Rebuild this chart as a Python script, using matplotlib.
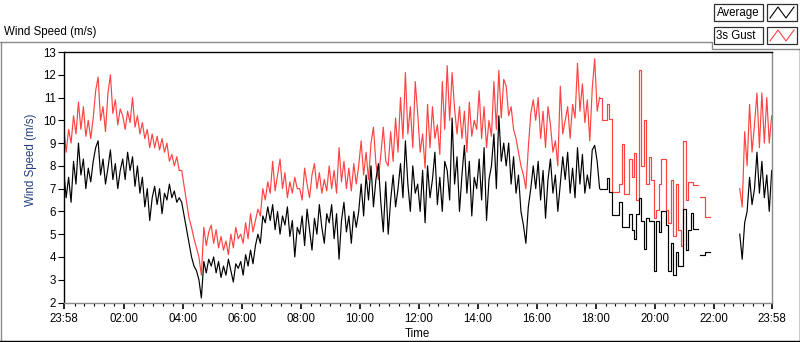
import numpy as np
import matplotlib
matplotlib.use('Agg')
import matplotlib.pyplot as plt
from matplotlib.patches import Rectangle
from matplotlib.lines import Line2D

nan = np.nan

# minutes after 23:58 (previous day), 5-minute samples
minutes = np.arange(0, 1441, 5)

average_speed = [
    7.8, 6.6, 7.5, 6.4, 8.2, 7.2, 9.0, 7.6, 8.3, 7.0, 7.9, 7.3,
    8.2, 8.8, 9.1, 7.6, 8.3, 7.2, 7.9, 8.7, 7.4, 8.1, 7.0, 7.8,
    8.3, 7.4, 8.6, 7.8, 8.4, 7.1, 8.0, 6.8, 7.5, 6.2, 7.0, 5.6,
    6.6, 7.1, 6.3, 7.0, 5.9, 6.8, 6.5, 7.2, 6.6, 6.9, 6.4, 6.6,
    6.4, 5.8, 5.2, 4.6, 4.0, 3.6, 3.4, 3.0, 2.2, 3.8, 3.3, 3.9,
    3.6, 4.0, 3.3, 3.8, 3.1, 3.6, 3.2, 3.9, 3.4, 2.9, 3.7, 3.5,
    3.8, 3.2, 4.1, 3.6, 4.3, 3.7, 4.5, 5.0, 4.6, 5.8, 5.5, 6.2,
    5.6, 6.3, 5.2, 6.0, 5.0, 5.8, 5.4, 6.2, 4.9, 5.6, 4.0, 5.3,
    5.0, 5.8, 4.5, 6.1, 5.2, 4.3, 5.7, 5.0, 6.3, 5.3, 4.6, 5.9,
    5.5, 6.3, 4.8, 5.9, 3.9, 5.6, 6.4, 5.1, 5.8, 4.6, 6.0, 5.3,
    6.0, 7.2, 5.8, 7.6, 6.5, 8.0, 6.2, 7.4, 8.1, 6.4, 5.1, 7.3,
    5.0, 6.5, 7.6, 6.2, 7.0, 8.1, 6.6, 9.1, 7.2, 6.0, 8.0, 6.8,
    7.2, 6.0, 7.8, 5.5, 8.0, 6.6, 7.4, 8.6, 6.3, 7.5, 6.0, 8.2,
    7.8, 6.5, 10.1, 7.2, 8.4, 6.0, 7.6, 8.9, 6.8, 8.2, 5.8, 7.5,
    7.0, 8.3, 6.5, 8.8, 5.6, 7.4, 8.0, 9.4, 7.0, 10.2, 8.2, 9.0,
    8.0, 9.0, 7.2, 8.4, 6.8, 7.6, 6.0, 5.4, 4.6, 6.2, 7.0, 8.0,
    7.0, 8.2, 6.5, 7.8, 5.7, 7.4, 8.3, 6.8, 7.6, 6.0, 7.2, 8.4,
    7.4, 8.6, 6.8, 7.9, 6.6, 8.8, 7.2, 8.5, 6.8, 7.6, 7.0, 8.7,
    8.9, 8.2, 7.0, 7.0, 7.0, 7.45, 6.85, 5.85, 5.85, 5.85, 6.4, 5.3,
    5.3, 5.3, 5.9, 5.2, 4.8, 5.9, 6.6, 5.6, 4.35, 5.7, 5.6, 5.6,
    3.4, 5.6, 5.1, 6.0, 6.0, 5.4, 3.4, 4.6, 3.2, 4.2, 3.6, 3.6,
    6.1, 4.3, 5.2, 5.95, 5.24, 5.24, nan, 4.1, 4.1, 4.2, 4.2, nan,
    nan, nan, nan, nan, nan, nan, nan, nan, nan, nan, nan, 5.0,
    3.9, 5.5, 6.0, 7.5, 6.3, 7.0, 8.6, 6.8, 8.2, 6.6, 7.6, 6.0,
    7.8,
]

gust_speed = [
    9.7, 8.6, 9.6, 9.0, 10.2, 9.4, 10.8, 9.6, 10.6, 9.3, 10.0, 9.2,
    10.1, 11.3, 11.9, 10.0, 10.6, 9.5, 11.2, 12.0, 10.3, 10.9, 9.8, 10.5,
    10.2, 9.6, 10.4, 9.9, 11.0, 9.7, 10.2, 9.4, 9.9, 9.2, 9.6, 8.8,
    9.4, 8.8, 9.3, 8.7, 9.2, 8.6, 9.0, 8.2, 8.5, 8.0, 8.4, 7.8,
    7.8, 7.1, 6.4, 5.7, 5.3, 4.8, 4.4, 4.0, 3.2, 5.3, 4.5, 5.1,
    5.4, 4.6, 5.2, 4.4, 4.9, 4.3, 4.7, 4.1, 5.0, 4.4, 5.3, 4.8,
    5.0, 4.6, 5.5, 4.8, 5.9, 5.1, 5.6, 6.1, 5.8, 7.0, 6.5, 7.3,
    6.8, 8.2, 6.9, 7.6, 8.3, 7.0, 7.7, 6.6, 7.3, 6.8, 7.5, 7.0,
    7.0, 6.5, 7.9, 7.2, 6.6, 7.6, 8.1, 7.0, 7.7, 6.8, 7.4, 6.9,
    8.0, 7.0, 7.8, 6.8, 8.8, 7.3, 8.2, 7.0, 7.9, 6.9, 8.1, 7.2,
    8.0, 9.1, 7.6, 8.6, 7.4, 9.0, 9.7, 8.1, 7.4, 8.5, 9.7, 8.2,
    8.0, 9.5, 8.2, 10.1, 8.6, 11.0, 9.2, 12.1, 9.4, 10.6, 8.8, 11.7,
    10.3, 8.6, 9.4, 7.9, 10.7, 8.8, 10.6, 9.2, 9.8, 8.5, 11.7, 9.6,
    12.4, 10.0, 12.1, 10.5, 9.4, 10.6, 9.2, 10.4, 8.6, 10.8, 9.3, 10.0,
    9.6, 11.3, 9.2, 10.6, 8.8, 10.0, 9.3, 11.7, 9.6, 12.2, 10.1, 11.8,
    11.5, 10.2, 10.6, 9.6, 9.2, 8.6, 8.0, 7.6, 7.0, 8.8, 10.3, 10.9,
    10.0, 11.0, 9.2, 10.4, 8.8, 10.6, 9.8, 8.6, 9.1, 8.0, 11.5, 9.4,
    10.0, 10.6, 9.2, 10.7, 10.1, 12.5, 10.4, 11.6, 9.9, 10.9, 9.1, 11.4,
    12.7, 10.4, 11.0, 10.0, 10.0, 10.7, 10.05, 6.85, 6.85, 6.85, 7.2, 8.95,
    6.78, 6.78, 8.3, 7.5, 8.55, 6.5, 12.2, 8.0, 10.0, 7.2, 8.4, 7.4,
    5.7, 6.05, 7.2, 8.3, 8.3, 6.05, 5.5, 7.4, 4.9, 7.2, 5.2, 4.5,
    9.1, 6.5, 7.3, 7.3, 7.14, 7.14, nan, 6.65, 6.65, 5.75, 5.75, nan,
    nan, nan, nan, nan, nan, nan, nan, nan, nan, nan, nan, 7.0,
    6.2, 9.5, 8.0, 10.7, 8.6, 9.8, 11.2, 8.8, 11.2, 9.0, 11.0, 9.0,
    10.2,
]

major_ticks = [0, 122, 242, 362, 482, 602, 722, 842, 962, 1082, 1202, 1322, 1440]
major_labels = ['23:58', '02:00', '04:00', '06:00', '08:00', '10:00', '12:00',
                '14:00', '16:00', '18:00', '20:00', '22:00', '23:58']
y_ticks = list(range(2, 14))
legend_names = ['Average', '3s Gust']
series_colors = ['#000000', '#ff4242']

plt.rcParams['font.family'] = ['Liberation Sans', 'DejaVu Sans']

W, H = 800, 342
fig = plt.figure(figsize=(W / 100, H / 100), dpi=100)
fig.patch.set_facecolor('white')


def fx(x):
    return x / W


def fy(y):
    return 1 - y / H


ax = fig.add_axes([fx(63.7), fy(302.5), (771.7 - 63.7) / W, (302.5 - 52) / H])

# dense logging parts drawn as jagged lines, sparse held values as steps
dense_a = slice(0, 219)
sparse = slice(218, 264)
dense_b = slice(275, 289)
avg = np.array(average_speed, dtype=float)
gst = np.array(gust_speed, dtype=float)
for series, col in [(gst, series_colors[1]), (avg, series_colors[0])]:
    ax.plot(minutes[dense_a], series[dense_a], color=col, lw=0.85)
    ax.plot(minutes[sparse], series[sparse], drawstyle='steps-post', color=col, lw=0.85)
    ax.plot(minutes[dense_b], series[dense_b], color=col, lw=0.85)

ax.set_xlim(0, 1440)
ax.set_ylim(2, 13)

ax.set_xticks(major_ticks)
ax.set_xticklabels(major_labels)
minor = [t for t in range(22, 1440, 20) if t not in major_ticks]
ax.set_xticks(minor, minor=True)
ax.set_yticks(y_ticks)
ax.tick_params(axis='x', which='major', length=4.5, width=1.2, pad=3, labelsize=8.3, color='black')
ax.tick_params(axis='x', which='minor', length=2.5, width=0.8, color='black')
ax.tick_params(axis='y', which='major', length=4.0, width=0.8, pad=1.5, labelsize=8.3, color='black')

for side in ['top', 'left']:
    ax.spines[side].set_color('black')
    ax.spines[side].set_linewidth(1.0)
for side in ['bottom', 'right']:
    ax.spines[side].set_color('#8a8a8a')
    ax.spines[side].set_linewidth(1.0)

# axis labels
fig.text(fx(31), fy(160), 'Wind Speed (m/s)', rotation=90, ha='center', va='center',
         fontsize=8.3, color='#23407a')
fig.text(fx(417), fy(334), 'Time', ha='center', va='center', fontsize=8.3, color='black')
fig.text(fx(4), fy(32), 'Wind Speed (m/s)', ha='left', va='center', fontsize=8.3, color='black')


def fline(xs, ys, color, lw=1.0):
    fig.add_artist(Line2D([fx(x) for x in xs], [fy(y) for y in ys],
                          transform=fig.transFigure, color=color, lw=lw))


# outer panel border
fline([0.5, 0.5], [42, 341], '#8a8a8a')
fline([0, 712, 712, 800], [42, 42, 48.5, 48.5], '#8a8a8a')
fline([0, 800], [341, 341], 'black')
fline([799.5, 799.5], [48.5, 341], 'black')

# legend
rows = [(4, 21), (27, 44)]
for (y0, y1), name, col in zip(rows, legend_names, series_colors):
    fig.add_artist(Rectangle((fx(714), fy(y1)), 49 / W, (y1 - y0) / H,
                             transform=fig.transFigure, fill=False,
                             edgecolor='#303030', lw=0.9))
    fig.text(fx(716.5), fy((y0 + y1) / 2 + 0.5), name, ha='left', va='center',
             fontsize=8.3, color='black')
    fig.add_artist(Rectangle((fx(767), fy(y1)), 30 / W, (y1 - y0) / H,
                             transform=fig.transFigure, fill=False,
                             edgecolor='#303030', lw=0.9))
    zx = [770, 778, 786, 794]
    zy = [y1 - 3, y0 + 3, y1 - 3, y0 + 3]
    fline(zx, zy, col, lw=0.8)

fig.savefig('out.png', dpi=100, facecolor='white')
